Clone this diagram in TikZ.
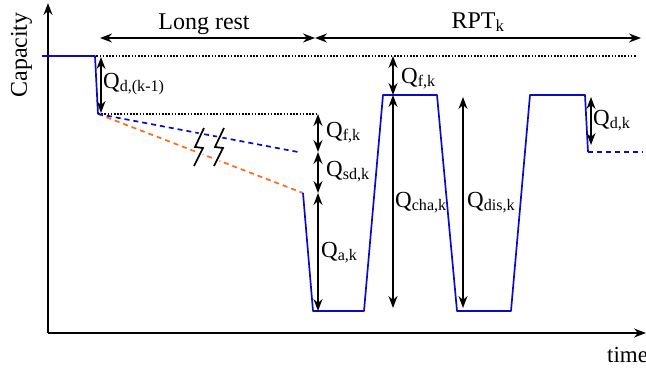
\documentclass[tikz,border=0pt]{standalone}
\usepackage{fontspec}
\setmainfont{Liberation Serif}
\usetikzlibrary{arrows.meta}
\definecolor{qblue}{RGB}{10,10,200}
\definecolor{qorange}{RGB}{255,105,25}
\begin{document}
\begin{tikzpicture}[x=1pt,y=-1pt,
  tip/.tip={Stealth[length=12pt,width=9pt,inset=4pt]},
  axis/.style={line width=1.8pt,-tip},
  dim/.style={line width=1.7pt,tip-tip},
  curve/.style={line width=1.7pt,draw=qblue,line join=round},
  bdash/.style={line width=1.7pt,draw=qblue,dash pattern=on 5pt off 4pt},
  odash/.style={line width=1.7pt,draw=qorange,dash pattern=on 5pt off 4pt},
  dots/.style={line width=1.6pt,dash pattern=on 1.5pt off 1.7pt},
  bolt/.style={line width=1.7pt,line join=miter},
  lbl/.style={font=\fontsize{23}{25}\selectfont,inner sep=0pt,anchor=base west},
  ttl/.style={font=\fontsize{24}{26}\selectfont,inner sep=0pt,anchor=base}
]
\useasboundingbox (0,0) rectangle (646,372);
% axes
\coordinate (O) at (48,333);
\coordinate (Ytop) at (48,3);
\coordinate (Xend) at (646,333);
\draw[axis] (O) -- (Ytop);
\draw[axis] (O) -- (Xend);
\node[ttl,rotate=90] (cap) at (27,55) {Capacity};
\node[lbl] (time) at (607,362) {time};
% curve points
\coordinate (p0) at (42,56);
\coordinate (p1) at (95,56);
\coordinate (p2) at (98,114);
\coordinate (b3) at (298,152);
\coordinate (p3) at (303,193);
\coordinate (p4) at (313,311);
\coordinate (p5) at (364,311);
\coordinate (p6) at (383,95);
\coordinate (p7) at (437,95);
\coordinate (p8) at (457,311);
\coordinate (p9) at (511,311);
\coordinate (p10) at (530,95);
\coordinate (p11) at (585,95);
\coordinate (p12) at (588,152);
\coordinate (p13) at (643,152);
% dotted reference lines
\coordinate (d1e) at (636,56);
\coordinate (d2e) at (318,114);
\draw[dots] (p0) -- (d1e);
\draw[dots] (p2) -- (d2e);
% dashed extrapolations
\draw[odash] (p2) -- (p3);
\draw[bdash] (p2) -- (b3);
\draw[bdash] (p12) -- (p13);
% solid curve
\draw[curve] (p0) -- (p1) -- (p2);
\draw[curve] (p3) -- (p4) -- (p5) -- (p6) -- (p7) -- (p8) -- (p9) -- (p10) -- (p11) -- (p12);
% lightning bolts
\draw[bolt,draw=white,line width=5pt] (204,128) -- (195,147) -- (203,148) -- (194,166);
\draw[bolt,draw=white,line width=5pt] (224,128) -- (215,147) -- (223,148) -- (214,166);
\draw[bolt] (204,128) -- (195,147) -- (203,148) -- (194,166);
\draw[bolt] (224,128) -- (215,147) -- (223,148) -- (214,166);
% top span arrows
\coordinate (lr1) at (100,38);
\coordinate (lr2) at (315,38);
\coordinate (rp2) at (641,38);
\draw[dim] (lr1) -- (lr2);
\draw[dim] (lr2) -- (rp2);
\node[ttl] (lrest) at (204,29) {Long rest};
\node[ttl] (rpt) at (478,28) {RPT\textsubscript{k}};
% dimension arrows
\coordinate (a1t) at (101,57);
\coordinate (a1b) at (101,113);
\draw[dim] (a1t) -- (a1b);
\node[lbl] (qd1) at (103,88) {Q\textsubscript{d,(k-1)}};
\coordinate (f1t) at (318,114);
\coordinate (f1b) at (318,152);
\coordinate (s1b) at (318,193);
\coordinate (a2b) at (318,311);
\draw[dim] (f1t) -- (f1b);
\draw[dim] (f1b) -- (s1b);
\draw[dim] (s1b) -- (a2b);
\node[lbl] (qf1) at (326,137) {Q\textsubscript{f,k}};
\node[lbl] (qsd) at (326,176) {Q\textsubscript{sd,k}};
\node[lbl] (qa) at (321,257) {Q\textsubscript{a,k}};
\coordinate (f2t) at (393,56);
\coordinate (f2b) at (393,95);
\coordinate (c2b) at (393,308);
\draw[dim] (f2t) -- (f2b);
\draw[dim] (f2b) -- (c2b);
\node[lbl] (qf2) at (401,83) {Q\textsubscript{f,k}};
\node[lbl] (qcha) at (395,207) {Q\textsubscript{cha,k}};
\coordinate (dt) at (463,97);
\coordinate (db) at (463,308);
\draw[dim] (dt) -- (db);
\node[lbl] (qdis) at (467,207) {Q\textsubscript{dis,k}};
\coordinate (kt) at (591,97);
\coordinate (kb) at (591,145);
\draw[dim] (kt) -- (kb);
\node[lbl] (qdk) at (593,125) {Q\textsubscript{d,k}};
\end{tikzpicture}
\end{document}
